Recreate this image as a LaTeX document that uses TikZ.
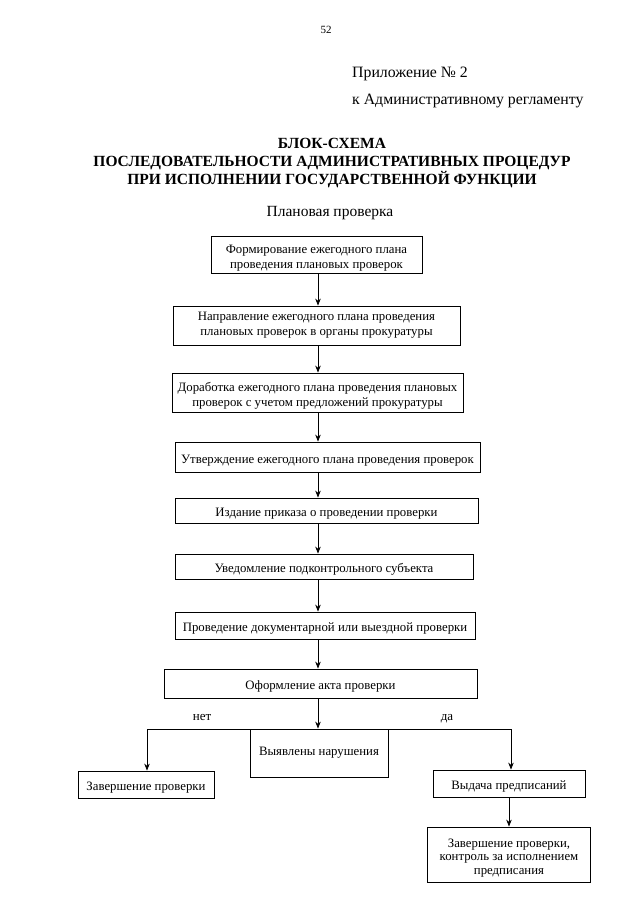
\documentclass[tikz,border=0pt]{standalone}
\usepackage{fontspec}
\setmainfont{Liberation Serif}
\usetikzlibrary{arrows.meta}
\newcommand\toppad{\rule{0pt}{15pt}}
\begin{document}
\begin{tikzpicture}[x=1pt,y=-1pt,
  box/.style={draw=black, line width=0.8pt, inner sep=0pt, align=center, font=\fontsize{12.8}{15}\selectfont},
  lbl/.style={inner sep=0pt, anchor=base, font=\fontsize{13}{15}\selectfont},
  link/.style={draw=black, line width=0.8pt},
  arr/.style={link, -{Stealth[length=7pt,width=5.5pt]}}]
\path[use as bounding box, fill=white] (0,0) rectangle (640,905);
% header
\node[inner sep=0pt, font=\fontsize{11}{13}\selectfont] (pg) at (326,30) {52};
\node[inner sep=0pt, anchor=west, font=\fontsize{15.8}{18}\selectfont] (app) at (352,74) {Приложение № 2};
\node[inner sep=0pt, anchor=west, font=\fontsize{15.8}{18}\selectfont] (reg) at (352,101) {к Административному регламенту};
\node[inner sep=0pt, align=center, font=\bfseries\fontsize{15.5}{18}\selectfont] (title) at (332,163)
  {БЛОК-СХЕМА\\ПОСЛЕДОВАТЕЛЬНОСТИ АДМИНИСТРАТИВНЫХ ПРОЦЕДУР\\ПРИ ИСПОЛНЕНИИ ГОСУДАРСТВЕННОЙ ФУНКЦИИ};
\node[inner sep=0pt, font=\fontsize{15.5}{18}\selectfont] (plan) at (330,213) {Плановая проверка};
% boxes
\node[box, minimum width=211pt, minimum height=37pt] (b1) at (316.5,254.5) {\toppad Формирование ежегодного плана\\проведения плановых проверок};
\node[box, minimum width=287pt, minimum height=39pt] (b2) at (316.5,325.5) {Направление ежегодного плана проведения\\плановых проверок в органы прокуратуры};
\node[box, minimum width=291pt, minimum height=39pt] (b3) at (317.5,392.5) {\toppad Доработка ежегодного плана проведения плановых\\проверок с учетом предложений прокуратуры};
\node[box, minimum width=305pt, minimum height=30pt] (b4) at (327.5,457) {\toppad Утверждение ежегодного плана проведения проверок};
\node[box, minimum width=303pt, minimum height=25pt] (b5) at (326.5,510.5) {\toppad Издание приказа о проведении проверки};
\node[box, minimum width=298pt, minimum height=25pt] (b6) at (324,566.5) {\toppad Уведомление подконтрольного субъекта};
\node[box, minimum width=300pt, minimum height=27pt] (b7) at (325,625.5) {\toppad Проведение документарной или выездной проверки};
\node[box, minimum width=313pt, minimum height=29pt] (b8) at (320.5,683.5) {\toppad Оформление акта проверки};
\node[box, minimum width=138pt, minimum height=48pt] (b9) at (319,753) {Выявлены нарушения};
\node[box, minimum width=136pt, minimum height=27pt] (b10) at (146,784.5) {\toppad Завершение проверки};
\node[box, minimum width=152pt, minimum height=27pt] (b11) at (509,783.5) {\toppad Выдача предписаний};
\node[box, minimum width=163pt, minimum height=55pt, font=\fontsize{12.8}{13.5}\selectfont] (b12) at (509,854.5) {\toppad Завершение проверки,\\контроль за исполнением\\предписания};
% connectors
\coordinate (col) at (318,0);
\draw[arr] (b1.south -| col) -- (b2.north -| col);
\draw[arr] (b2.south -| col) -- (b3.north -| col);
\draw[arr] (b3.south -| col) -- (b4.north -| col);
\draw[arr] (b4.south -| col) -- (b5.north -| col);
\draw[arr] (b5.south -| col) -- (b6.north -| col);
\draw[arr] (b6.south -| col) -- (b7.north -| col);
\draw[arr] (b7.south -| col) -- (b8.north -| col);
\draw[arr] (b8.south -| col) -- (b9.north -| col);
\coordinate (jl) at (147,729);
\coordinate (jr) at (511,729);
\draw[link] (jl) -- (jr);
\draw[arr] (jl) -- (jl |- b10.north);
\draw[arr] (jr) -- (jr |- b11.north);
\draw[arr] (b11.south) -- (b12.north);
\node[lbl] (no) at (202,720) {нет};
\node[lbl] (yes) at (447,720) {да};
\end{tikzpicture}
\end{document}
